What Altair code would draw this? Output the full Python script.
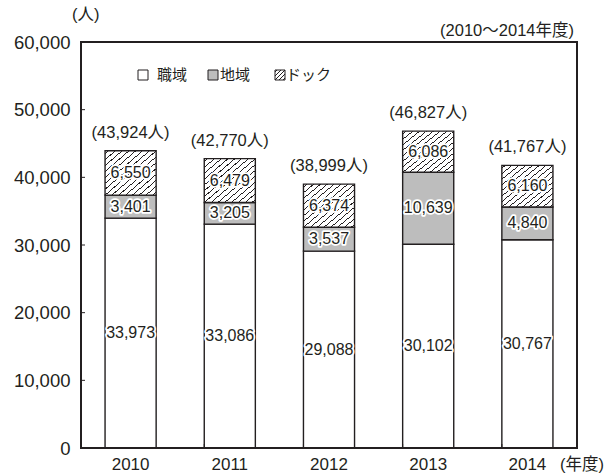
import altair as alt
import pandas as pd

years = ["2010", "2011", "2012", "2013", "2014"]
series = ["職域", "地域", "ドック"]
shokuiki = [33973, 33086, 29088, 30102, 30767]
chiiki = [3401, 3205, 3537, 10639, 4840]
dock = [6550, 6479, 6374, 6086, 6160]
totals = [43924, 42770, 38999, 46827, 41767]
y_ticks = [0, 10000, 20000, 30000, 40000, 50000, 60000]

FONT = "Liberation Sans, Arial, Noto Sans CJK JP"
INK = "#231f20"
GRAY = "#bdbdbd"

rows = []
for i, yr in enumerate(years):
    start = 0
    for s, vals in zip(series, [shokuiki, chiiki, dock]):
        v = vals[i]
        rows.append({"year": yr, "series": s, "value": v, "start": start,
                     "end": start + v, "mid": start + v / 2,
                     "label": f"{v:,}"})
        start += v
df = pd.DataFrame(rows)
tot_df = pd.DataFrame({"year": years, "total": totals,
                       "label": [f"({t:,}人)" for t in totals]})

# diagonal hatch as a repeating hard-stop gradient
N = 15
stops = []
for k in range(N):
    a = (k + 0.42) / N
    b = (k + 0.60) / N
    stops += [alt.GradientStop(color="white", offset=k / N),
              alt.GradientStop(color="white", offset=a),
              alt.GradientStop(color=INK, offset=a),
              alt.GradientStop(color=INK, offset=b),
              alt.GradientStop(color="white", offset=b)]
stops.append(alt.GradientStop(color="white", offset=1))
hatch = alt.LinearGradient(gradient="linear", stops=stops, x1=0, y1=0, x2=1, y2=1)

xscale = alt.Scale(paddingInner=0.485, paddingOuter=0.2425)
xaxis = alt.Axis(labelAngle=0, ticks=False, domain=False, title=None,
                 labelFontSize=17, labelFont=FONT, labelColor=INK,
                 labelPadding=8)
yscale = alt.Scale(domain=[0, 60000])
yaxis = alt.Axis(values=y_ticks, grid=False, ticks=False, format=",.0f",
                 domain=False, title=None, labelFontSize=18.5,
                 labelFont=FONT, labelColor=INK, labelPadding=11)


def X(**kw):
    return alt.X("year:N", scale=xscale, sort=years, axis=xaxis, **kw)


def Y(field):
    return alt.Y(field, scale=yscale, axis=yaxis)


base = alt.Chart(df)
bars_w = base.transform_filter(alt.datum.series == series[0]).mark_bar(
    fill="white", stroke=INK, strokeWidth=1.4).encode(x=X(), y=Y("start:Q"), y2="end:Q")
bars_g = base.transform_filter(alt.datum.series == series[1]).mark_bar(
    fill=GRAY, stroke=INK, strokeWidth=1.4).encode(x=X(), y=Y("start:Q"), y2="end:Q")
bars_h = base.transform_filter(alt.datum.series == series[2]).mark_bar(
    fill=hatch, stroke=INK, strokeWidth=1.4).encode(x=X(), y=Y("start:Q"), y2="end:Q")

halo = base.mark_text(font=FONT, fontSize=16, fill="white", stroke="white",
                      strokeWidth=3.5, strokeJoin="round").encode(
    x=X(), y=Y("mid:Q"), text="label:N")
lbl = base.mark_text(font=FONT, fontSize=16, fill=INK).encode(
    x=X(), y=Y("mid:Q"), text="label:N")

tot = alt.Chart(tot_df).mark_text(font=FONT, fontSize=16.5, fill=INK,
                                  baseline="bottom", dy=-10).encode(
    x=X(), y=Y("total:Q"), text="label:N")

# inner tick marks at band boundaries (bottom) and at value ticks (left)
inner_ticks = alt.Chart(pd.DataFrame({"year": years[1:]})).mark_rule(
    color=INK, strokeWidth=1).encode(
    x=X(bandPosition=0), y=alt.value(402), y2=alt.value(406))
left_ticks = alt.Chart(pd.DataFrame({"v": y_ticks[1:-1]})).mark_rule(
    color=INK, strokeWidth=1).encode(
    y=Y("v:Q"), x=alt.value(0), x2=alt.value(4))

# legend
leg_fills = ["white", GRAY, hatch]
leg_x = [57, 127, 194]
leg_gap = [19, 12, 11]
leg_layers = []
for name, f, lx, gp in zip(series, leg_fills, leg_x, leg_gap):
    d = alt.Data(values=[{"name": name}])
    leg_layers.append(alt.Chart(d).mark_rect(fill=f, stroke=INK, strokeWidth=1).encode(
        x=alt.value(lx), x2=alt.value(lx + 10), y=alt.value(28), y2=alt.value(38)))
    leg_layers.append(alt.Chart(d).mark_text(font=FONT, fontSize=15, fill=INK,
                                             align="left", baseline="middle").encode(
        x=alt.value(lx + gp), y=alt.value(33), text="name:N"))

texts = []
for t, xv, yv, al in [("(人)", -9, -27, "left"),
                      ("(2010～2014年度)", 493, -11, "right"),
                      ("(年度)", 479, 423, "left")]:
    texts.append(alt.Chart(alt.Data(values=[{"t": t}])).mark_text(
        font=FONT, fontSize=16.5, fill=INK, align=al, baseline="middle").encode(
        x=alt.value(xv), y=alt.value(yv), text="t:N"))

# plot frame
frame = alt.Chart(alt.Data(values=[{"f": 1}])).mark_rect(
    fill=None, stroke=INK, strokeWidth=2).encode(
    x=alt.value(0), x2=alt.value(496), y=alt.value(0), y2=alt.value(406))

chart = alt.layer(bars_w, bars_g, bars_h, inner_ticks, left_ticks, halo, lbl, tot,
                  *leg_layers, *texts, frame).properties(
    width=496, height=406,
    autosize=alt.AutoSizeParams(type="none"),
    padding={"left": 81, "top": 42, "right": 36, "bottom": 26},
).configure_view(stroke=None).configure(background="white")

chart.save("out.html", embed_options={"renderer": "svg", "actions": False})
